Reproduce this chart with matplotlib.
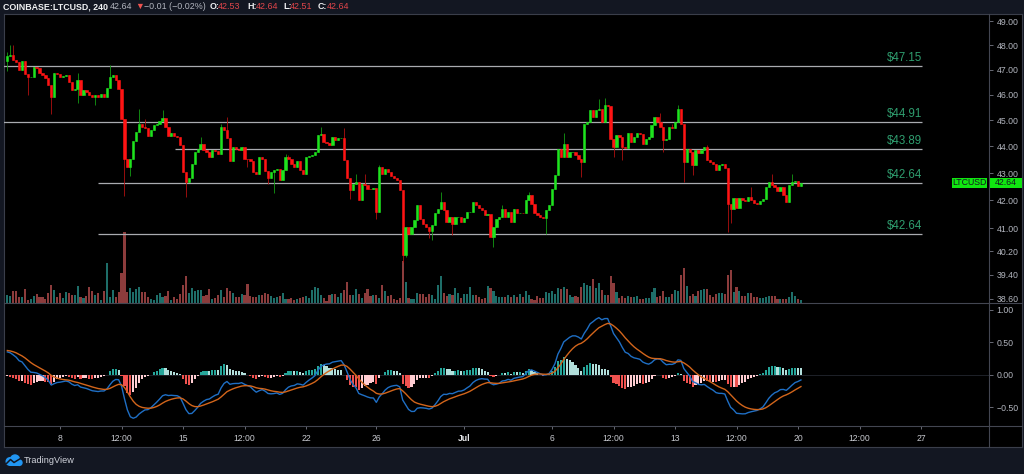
import numpy as np
import matplotlib
matplotlib.use("Agg")
import matplotlib.pyplot as plt
from matplotlib.patches import Rectangle, Circle
from matplotlib.lines import Line2D
from matplotlib.ticker import FixedLocator, FixedFormatter, NullLocator, NullFormatter

plt.rcParams['font.family'] = ['Liberation Sans', 'DejaVu Sans']

# ---------------- data (LTCUSD, 4h candles) ----------------
start_day = 5.0          # 5 June 2020 00:00, day-of-June numbering (1 July = 31)
candle_days = 1 / 6      # 240 minutes
first_open = 47.35

closes = [
    47.55, 47.60, 47.38, 47.30, 47.00, 47.33, 46.82, 46.70, 46.72, 47.10,
    47.05, 46.85, 46.80, 46.65, 46.40, 45.91, 46.86, 46.84, 46.72, 46.76,
    46.78, 46.52, 46.18, 46.24, 46.57, 46.00, 46.18, 46.12, 45.98, 45.90,
    45.97, 45.90, 46.04, 45.92, 46.28, 46.71, 46.78, 46.57, 46.24, 45.06,
    43.54, 43.23, 43.54, 44.20, 44.55, 44.87, 44.74, 44.70, 44.38, 44.63,
    44.80, 44.87, 44.98, 45.10, 44.74, 44.40, 44.52, 44.38, 44.35, 44.04,
    43.04, 42.67, 42.80, 43.35, 43.79, 43.90, 44.10, 43.85, 43.79, 43.60,
    43.85, 43.83, 43.72, 44.74, 44.61, 44.30, 43.45, 43.98, 43.90, 43.85,
    43.98, 43.54, 43.52, 43.44, 43.04, 42.98, 43.60, 43.54, 43.07, 42.80,
    43.04, 43.11, 43.15, 42.74, 43.11, 43.60, 43.54, 43.35, 43.23, 43.44,
    43.11, 42.98, 43.60, 43.63, 43.66, 43.79, 44.42, 44.45, 44.17, 44.11,
    44.04, 44.36, 44.23, 44.30, 44.33, 43.47, 42.80, 42.37, 42.61, 42.67,
    42.00, 42.61, 42.55, 42.43, 42.40, 42.45, 41.58, 43.23, 42.98, 43.15,
    43.04, 42.90, 42.80, 42.74, 42.37, 40.06, 41.05, 40.82, 41.05, 41.29,
    41.82, 41.35, 41.17, 41.05, 40.90, 41.11, 41.53, 41.70, 41.94, 41.64,
    41.23, 41.41, 41.17, 41.41, 41.41, 41.22, 41.38, 41.58, 41.60, 41.94,
    41.82, 41.72, 41.64, 41.47, 41.50, 40.70, 41.05, 41.35, 41.41, 41.70,
    41.41, 41.58, 41.23, 41.70, 41.53, 41.56, 41.53, 42.00, 42.19, 41.88,
    41.53, 41.47, 41.41, 41.38, 41.64, 41.82, 42.43, 42.92, 43.91, 43.60,
    44.10, 43.60, 43.79, 43.80, 43.66, 43.52, 43.41, 44.87, 44.93, 45.39,
    45.13, 45.39, 45.45, 44.93, 45.60, 45.55, 44.29, 43.98, 44.42, 44.36,
    43.98, 43.95, 44.49, 44.17, 44.36, 44.49, 44.47, 44.10, 44.29, 44.36,
    44.80, 45.13, 44.93, 44.74, 44.23, 44.29, 44.74, 44.68, 44.93, 45.45,
    44.87, 43.41, 43.91, 43.79, 43.29, 43.85, 43.73, 43.85, 43.98, 43.48,
    43.41, 43.35, 43.10, 43.29, 43.35, 43.20, 41.88, 41.70, 42.08, 41.72,
    42.10, 42.00, 41.98, 42.12, 42.00, 41.92, 41.88, 41.98, 42.06, 42.49,
    42.67, 42.55, 42.49, 42.33, 42.49, 42.19, 41.95, 42.55, 42.67, 42.70,
    42.53, 42.64,
]

# wick extremes that stand out beyond the bodies (candle index -> price)
wick_highs = {0: 47.70, 1: 48.02, 2: 48.00, 24: 46.88, 35: 47.20, 45: 45.45,
              47: 45.05, 53: 45.38, 66: 44.35, 73: 44.87, 75: 45.12, 95: 43.72,
              96: 43.66, 107: 44.74, 115: 44.68, 119: 42.98, 122: 42.98,
              127: 43.30, 148: 42.31, 169: 41.82, 178: 42.31, 190: 44.49,
              202: 45.84, 204: 45.86, 223: 45.26, 227: 44.87, 229: 45.58,
              239: 44.05, 254: 42.49, 261: 42.95, 268: 42.97, 271: 42.64}
wick_lows = {0: 46.95, 7: 46.00, 15: 45.25, 24: 45.65, 30: 45.60, 40: 42.15,
             42: 42.90, 61: 42.13, 82: 43.23, 89: 42.61, 91: 42.25, 117: 42.06,
             126: 41.35, 135: 39.83, 136: 40.00, 144: 40.65, 145: 40.60,
             152: 40.76, 166: 40.35, 184: 40.82, 196: 42.86, 207: 43.60,
             210: 43.48, 224: 43.79, 231: 42.67, 234: 42.92, 246: 40.88,
             247: 41.20, 271: 42.51}

volumes = [
    8, 7, 12, 12, 6, 6, 14, 3, 4, 7, 9, 6, 6, 4, 10, 18, 13, 6, 10, 5,
    11, 10, 8, 8, 17, 6, 5, 7, 16, 12, 8, 10, 3, 12, 40, 6, 13, 6, 11, 30,
    71, 11, 15, 11, 14, 16, 11, 11, 6, 4, 3, 8, 10, 6, 7, 12, 3, 6, 4, 9,
    18, 27, 10, 15, 12, 13, 13, 7, 8, 14, 4, 5, 8, 13, 6, 15, 12, 10, 6, 6,
    9, 8, 19, 7, 6, 6, 8, 8, 10, 9, 7, 5, 6, 7, 10, 4, 4, 5, 3, 4,
    5, 6, 7, 5, 13, 16, 15, 8, 5, 2, 8, 9, 9, 6, 10, 13, 21, 8, 8, 14,
    9, 5, 10, 14, 7, 8, 8, 5, 18, 12, 7, 8, 4, 3, 5, 42, 21, 5, 4, 4,
    10, 9, 9, 6, 9,
    8, 4, 18, 27, 10, 7, 9, 8, 15, 10, 5, 9, 9, 16, 8, 8, 6, 4, 5, 17,
    15, 12, 7, 6, 6, 6, 8, 6, 8, 6, 9, 6, 12, 8, 4, 3, 7, 5, 5, 11,
    10, 12, 9, 15, 14, 16, 14, 8, 6, 7, 6, 16, 20, 18, 17, 24, 15, 20, 13, 8,
    8, 27, 20, 11, 5,
    7, 5, 7, 6, 6, 7, 4, 4, 5, 5, 11, 15, 6, 7, 12, 6, 6, 9, 13, 12,
    28, 35, 17, 7, 9, 7, 12, 13, 14, 14, 8, 6, 9, 10, 10, 9, 28, 33, 11, 16,
    12, 7, 7, 10, 10, 6, 6, 5, 5, 6, 7, 7, 7, 4, 4, 4, 4, 6, 11, 7,
    4, 3,
]

# MACD(12, 26, 9) state at the first visible candle
macd_start = 0.37
signal_start = 0.38
slow_ema_start = 47.05

price_ticks = [49.0, 48.0, 47.0, 46.0, 45.0, 44.0, 43.0, 42.0, 41.0, 40.2, 39.4, 38.6]
macd_ticks = [1.0, 0.5, 0.0, -0.5]
macd_tick_labels = ['1.00', '0.50', '0.00', '\u22120.50']
time_ticks = [8, 11.5, 15, 18.5, 22, 26, 31, 36, 39.5, 43, 46.5, 50, 53.5, 57]
time_labels = ['8', '12:00', '15', '12:00', '22', '26', 'Jul', '6', '12:00', '13',
               '12:00', '20', '12:00', '27']

levels = [47.15, 44.91, 43.89, 42.64, 40.80]
level_labels = ['$47.15', '$44.91', '$43.89', '$42.64', '$42.64']
level_start = [4.0, 4.0, 14.55, 10.16, 10.16]
level_end = 57.06
last_price = 42.64
symbol = 'LTCUSD'

# ---------------- derived series ----------------
n = len(closes)
t = start_day + np.arange(n) * candle_days
c = np.array(closes)
o = np.concatenate([[first_open], c[:-1]])
body_lo = np.minimum(o, c)
body_hi = np.maximum(o, c)
hi = body_hi.copy()
lo = body_lo.copy()
for k, v in wick_highs.items():
    hi[k] = max(hi[k], v)
for k, v in wick_lows.items():
    lo[k] = min(lo[k], v)
up = c >= o

a_f, a_s, a_g = 2 / 13, 2 / 27, 2 / 10
ef = slow_ema_start + macd_start
es = slow_ema_start
sg = signal_start
macd, sig = [], []
for p in closes:
    ef += a_f * (p - ef)
    es += a_s * (p - es)
    m = ef - es
    sg += a_g * (m - sg)
    macd.append(m)
    sig.append(sg)
macd = np.array(macd)
sig = np.array(sig)
hist = macd - sig
prev = np.concatenate([[hist[0]], hist[:-1]])
hist_col = np.where(hist >= 0,
                    np.where(hist >= prev, '#26a69a', '#b2dfdb'),
                    np.where(hist < prev, '#f0524f', '#ffcdd2'))

# ---------------- figure ----------------
W, H = 1024, 474
fig = plt.figure(figsize=(W / 100, H / 100), dpi=100)
fig.patch.set_facecolor('#131722')


def box(x0, y0, x1, y1):
    return [x0 / W, 1 - y1 / H, (x1 - x0) / W, (y1 - y0) / H]


frame = fig.add_axes(box(4, 14, 1022, 447))
frame.set_facecolor('black')
frame.set_xticks([])
frame.set_yticks([])
for s in frame.spines.values():
    s.set_color('#3a3e4a')
    s.set_linewidth(0.8)
frame.set_zorder(-5)

x_left, x_right = 4.81, 60.87
grey_txt = '#b2b5be'

axv = fig.add_axes(box(4, 14, 989, 302.5))
ax = fig.add_axes(box(4, 14, 989, 302.5))
axm = fig.add_axes(box(4, 303.5, 989, 426))
for a in (axv, ax, axm):
    a.set_facecolor('none')
    for s in a.spines.values():
        s.set_visible(False)
    a.set_xlim(x_left, x_right)
axv.set_zorder(1)
ax.set_zorder(2)
axm.set_zorder(2)

# volume
vol_up = '#1e6e69'
vol_dn = '#8c3c3c'
axv.bar(t, volumes, width=0.12, color=np.where(up, vol_up, vol_dn), linewidth=0)
axv.set_ylim(0, max(volumes) / 0.245)
axv.set_xticks([])
axv.set_yticks([])

# price pane
ax.set_yscale('log')
ax.set_ylim(38.47, 49.30)
for lv, lab, xs in zip(levels, level_labels, level_start):
    ax.hlines(lv, xs, level_end, color='#a9abb0', lw=0.9, zorder=1)
    ax.annotate(lab, xy=(level_end, lv), xytext=(0, 2), textcoords='offset pixels',
                ha='right', va='bottom', color='#2f9e6f', fontsize=8.3, zorder=5)

wick_col = np.where(up, '#149c14', '#b01010')
body_col = np.where(up, '#1ee31e', '#ff1414')
ax.vlines(t, lo, hi, colors=wick_col, lw=0.6, zorder=3)
ax.bar(t, body_hi - body_lo, bottom=body_lo, width=0.13, color=body_col,
       edgecolor=body_col, linewidth=0.4, zorder=4)

ax.yaxis.tick_right()
ax.yaxis.set_major_locator(FixedLocator(price_ticks))
ax.yaxis.set_major_formatter(FixedFormatter([f'{v:.2f}' for v in price_ticks]))
ax.yaxis.set_minor_locator(NullLocator())
ax.yaxis.set_minor_formatter(NullFormatter())
ax.tick_params(axis='y', which='major', length=3, width=0.6, color='#787b86',
               labelcolor=grey_txt, labelsize=6.3, pad=2.5)
ax.tick_params(axis='x', which='both', bottom=False, labelbottom=False)

# MACD pane
axm.axhline(0, color='#2a2e39', lw=0.5, zorder=1)
axm.bar(t, hist, width=0.12, color=hist_col, linewidth=0, zorder=2)
axm.plot(t, macd, color='#1f6fc5', lw=1.0, zorder=3)
axm.plot(t, sig, color='#d2651b', lw=1.0, zorder=3)
axm.set_ylim(-0.784, 1.096)
axm.yaxis.tick_right()
axm.set_yticks(macd_ticks)
axm.set_yticklabels(macd_tick_labels)
axm.tick_params(axis='y', length=3, width=0.6, color='#787b86',
                labelcolor=grey_txt, labelsize=6.3, pad=2.5)
axm.set_xticks(time_ticks)
labs = axm.set_xticklabels(time_labels)
axm.tick_params(axis='x', length=2.5, width=0.6, color='#787b86',
                labelcolor='#c8cad0', labelsize=6.2, pad=3)
for lab in labs:
    if lab.get_text() == 'Jul':
        lab.set_fontweight('bold')
        lab.set_color('#e8e9ec')

# separators
sep = '#434651'
for y in (303.0, 426.0):
    fig.add_artist(Line2D([4 / W, 1022 / W], [1 - y / H, 1 - y / H],
                          transform=fig.transFigure, color=sep, lw=0.8, zorder=10))
fig.add_artist(Line2D([989 / W, 989 / W], [1 - 14 / H, 1 - 447 / H],
                      transform=fig.transFigure, color=sep, lw=0.8, zorder=10))

# last price label on the axis
fig.canvas.draw()
y_disp = ax.transData.transform((x_left, last_price))[1]
yb = y_disp / H - 5.3 / H
hbox = 10.6 / H
green = '#10e610'
fig.add_artist(Rectangle((952 / W, yb), (987 - 952) / W, hbox, transform=fig.transFigure,
                         facecolor=green, edgecolor='none', zorder=11))
fig.add_artist(Rectangle((990 / W, yb), (1022 - 990) / W, hbox, transform=fig.transFigure,
                         facecolor=green, edgecolor='none', zorder=11))
fig.text(969.5 / W, y_disp / H, symbol, ha='center', va='center', fontsize=6.3,
         color='#131722', zorder=12)
fig.text(1006 / W, y_disp / H, f'{last_price:.2f}', ha='center', va='center',
         fontsize=6.3, color='#131722', zorder=12)

# header legend
hy = 1 - 6.7 / H
header = [
    ('COINBASE:LTCUSD, 240', 3, '#f0f1f3', 'bold'),
    ('42.64', 110, grey_txt, 'normal'),
    ('\u25bc', 135.5, '#ef5350', 'normal'),
    ('\u22120.01 (\u22120.02%)', 144, grey_txt, 'normal'),
    ('O:', 209.5, '#f0f1f3', 'bold'),
    ('42.53', 218, '#e0454a', 'normal'),
    ('H:', 247, '#f0f1f3', 'bold'),
    ('42.64', 256, '#e0454a', 'normal'),
    ('L:', 283, '#f0f1f3', 'bold'),
    ('42.51', 290, '#e0454a', 'normal'),
    ('C:', 318, '#f0f1f3', 'bold'),
    ('42.64', 327, '#e0454a', 'normal'),
]
for txt, xp, col, fw in header:
    fig.text(xp / W, hy, txt, ha='left', va='center', fontsize=6.4, color=col,
             fontweight=fw)

# TradingView logo
lax = fig.add_axes(box(4, 453, 23, 468))
lax.set_xlim(0, 19)
lax.set_ylim(0, 15)
lax.axis('off')
blue = '#2196f3'
for (cx, cy, r) in [(6, 6.5, 4.5), (11, 8.5, 5.2), (15.3, 5.3, 3.4)]:
    lax.add_patch(Circle((cx, cy), r, color=blue, lw=0))
lax.add_patch(Rectangle((6, 2), 9.3, 5, color=blue, lw=0))
lax.plot([2.5, 6.5, 10, 16.5], [4.5, 8.5, 5.5, 9.5], color='#131722', lw=1.1,
         solid_capstyle='round')
fig.text(24 / W, 1 - 460.7 / H, 'TradingView', ha='left', va='center',
         fontsize=6.6, color='#d1d4dc')

fig.savefig('out.png', dpi=100, facecolor=fig.get_facecolor())
